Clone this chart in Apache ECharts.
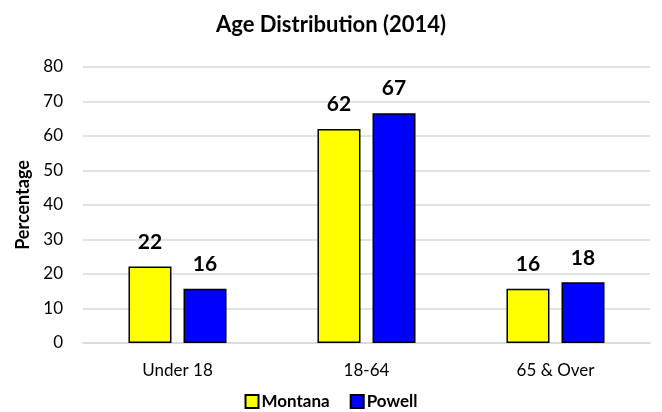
<!DOCTYPE html>
<html><head><meta charset="utf-8">
<script src="https://cdn.jsdelivr.net/npm/echarts@6/dist/echarts.min.js"></script>
<style>html,body{margin:0;padding:0;background:#fff}#c{width:662px;height:412px}</style>
</head><body><div id="c"></div>
<script>
const categories = ['Under 18', '18-64', '65 & Over'];
const montana = [22.2, 62.0, 15.7];
const powell = [15.7, 66.6, 17.6];
const seriesNames = ['Montana', 'Powell'];
const F = 'Lato, "Open Sans", sans-serif';
const chart = echarts.init(document.getElementById('c'));
const label = {show: true, position: 'top', distance: 14, fontFamily: F, fontWeight: 'bold', fontSize: 21, color: '#000',
  formatter: p => Math.round(p.value)};
chart.setOption({
  animation: false,
  title: {text: 'Age Distribution (2014)', left: 'center', top: 9,
    textStyle: {fontFamily: F, fontWeight: 'bold', fontSize: 22, color: '#000'}},
  legend: {top: 393, left: 'center', itemWidth: 13, itemHeight: 13, itemGap: 20, padding: 0,
    textStyle: {fontFamily: F, fontWeight: 'bold', fontSize: 17, color: '#000', padding: [0,0,0,-2]},
    data: seriesNames.map(n => ({name: n, icon: 'rect'}))},
  grid: {left: 83, right: 12, top: 67, bottom: 69, containLabel: false},
  xAxis: {type: 'category', data: categories,
    axisLine: {lineStyle: {color: '#d9d9d9', width: 1.5}}, axisTick: {show: false},
    axisLabel: {fontFamily: F, fontSize: 17, color: '#000', margin: 19}},
  yAxis: {type: 'value', min: 0, max: 80, interval: 10,
    name: 'Percentage', nameLocation: 'middle', nameGap: 51,
    nameTextStyle: {fontFamily: F, fontWeight: 'bold', fontSize: 18, color: '#000'},
    axisLabel: {fontFamily: F, fontSize: 17, color: '#000', margin: 20},
    splitLine: {lineStyle: {color: '#d9d9d9', width: 1.5}}},
  series: [
    {name: seriesNames[0], type: 'bar', data: montana, barWidth: 43, barGap: '28%',
      itemStyle: {color: '#ffff00', borderColor: '#000', borderWidth: 1.5}, label},
    {name: seriesNames[1], type: 'bar', data: powell, barWidth: 43,
      itemStyle: {color: '#0000ff', borderColor: '#000', borderWidth: 1.5}, label}
  ]
});
</script></body></html>
